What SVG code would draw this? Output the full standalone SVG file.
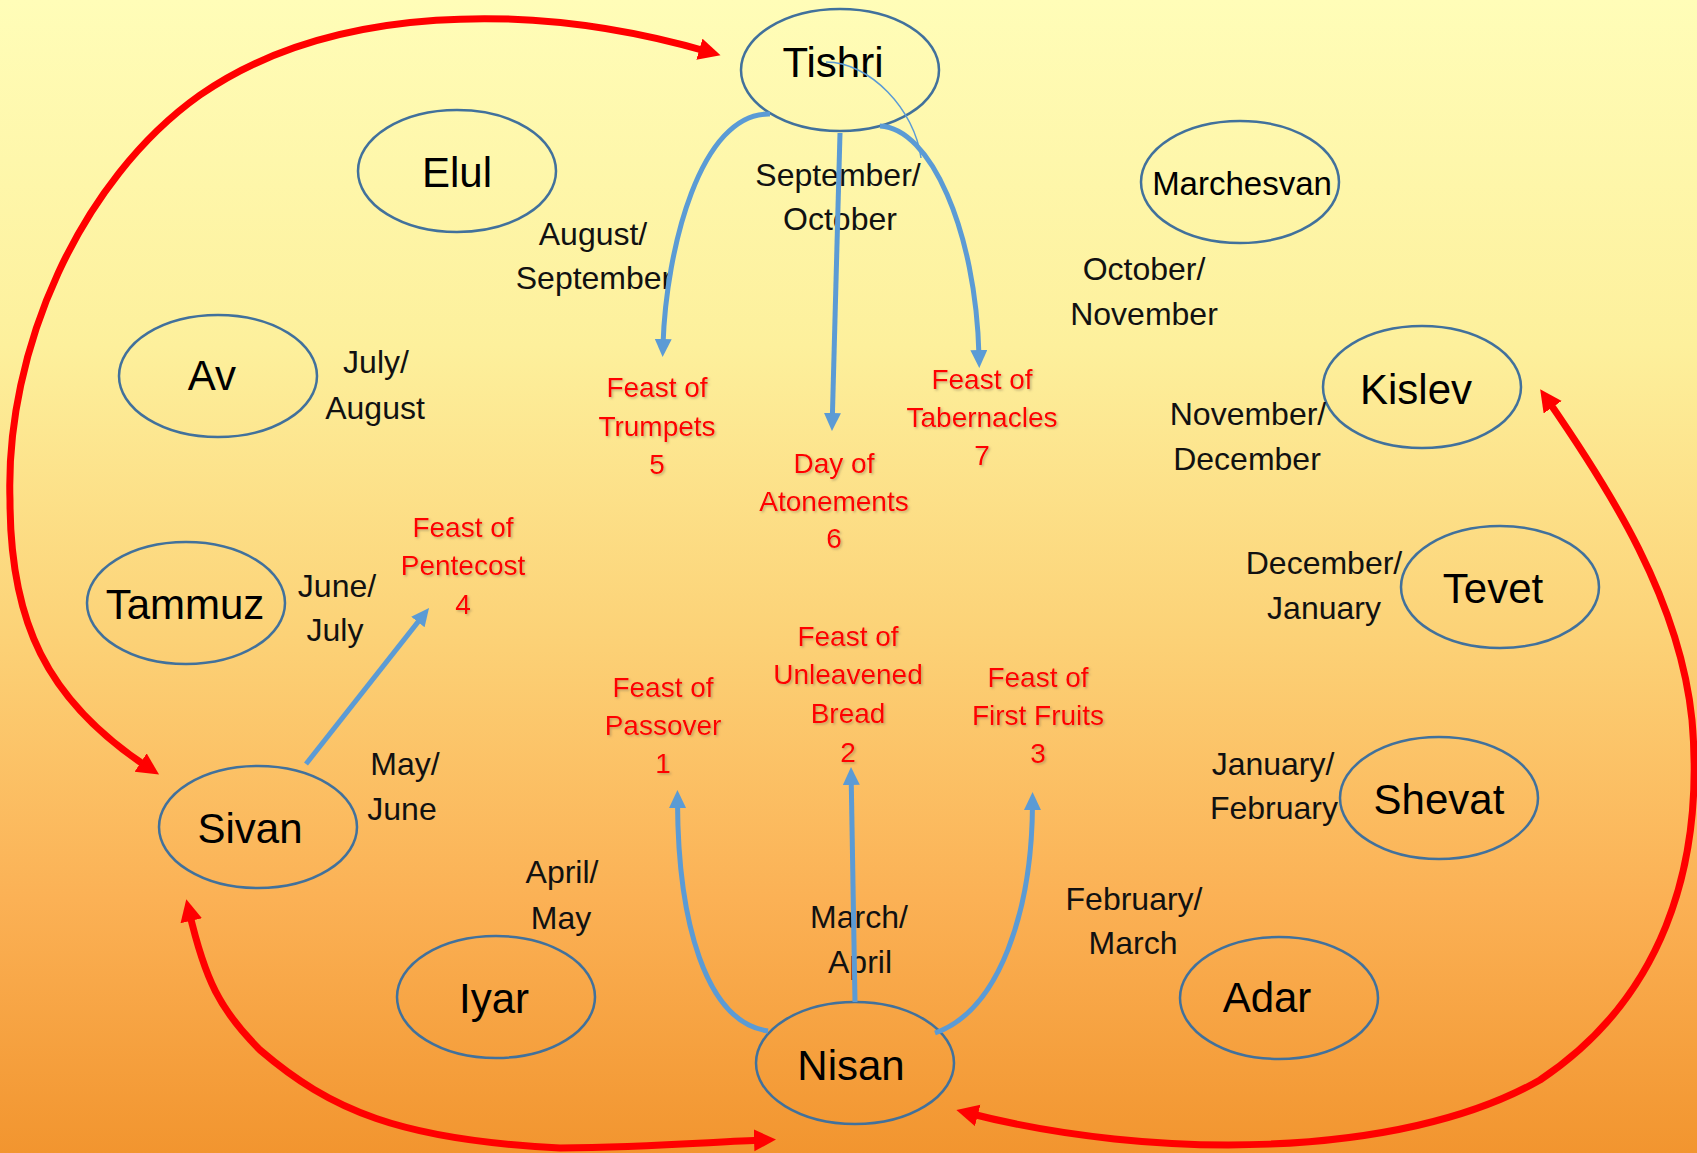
<svg xmlns="http://www.w3.org/2000/svg" width="1697" height="1153" viewBox="0 0 1697 1153">
<defs>
<linearGradient id="bg" x1="0" y1="0" x2="0" y2="1">
<stop offset="0" stop-color="#FFFDB8"/>
<stop offset="0.3" stop-color="#FDF09C"/>
<stop offset="0.55" stop-color="#FCD277"/>
<stop offset="0.78" stop-color="#FBB155"/>
<stop offset="1" stop-color="#F2952F"/>
</linearGradient>
<filter id="sh" x="-10%" y="-10%" width="130%" height="140%">
<feDropShadow dx="1.5" dy="1.5" stdDeviation="1" flood-color="#7a6a50" flood-opacity="0.45"/>
</filter>
<marker id="ra" markerUnits="userSpaceOnUse" markerWidth="24" markerHeight="24" refX="10" refY="11" orient="auto-start-reverse">
<path d="M0,0 L22,11 L0,22 z" fill="#FF0000"/>
</marker>
<marker id="ba" markerUnits="userSpaceOnUse" markerWidth="20" markerHeight="20" refX="6" refY="8.5" orient="auto">
<path d="M0,0 L18,8.5 L0,17 z" fill="#5B9BD5"/>
</marker>
</defs>
<style>
.node ellipse{fill:none;stroke:#41719C;stroke-width:2.5}
.mn{font-family:"Liberation Sans",Arial,sans-serif;font-size:42px;fill:#000;text-anchor:middle}
.ml{font-family:"Liberation Sans",Arial,sans-serif;font-size:32px;fill:#111;text-anchor:middle}
.fl{font-family:"Liberation Sans",Arial,sans-serif;font-size:28px;fill:#FF0000;text-anchor:middle;filter:url(#sh)}
.blue{fill:none;stroke:#5B9BD5;stroke-width:5}
.red{fill:none;stroke:#FF0000;stroke-width:7}
</style>
<rect x="0" y="0" width="1697" height="1153" fill="url(#bg)"/>

<g id="tishri" class="node"><ellipse cx="840" cy="70" rx="99" ry="61"/><text class="mn" x="833" y="77">Tishri</text></g>
<g id="elul" class="node"><ellipse cx="457" cy="171" rx="99" ry="61"/><text class="mn" x="457" y="187">Elul</text></g>
<g id="marchesvan" class="node"><ellipse cx="1240" cy="182" rx="99" ry="61"/><text class="mn" style="font-size:33px" x="1242" y="195">Marchesvan</text></g>
<g id="av" class="node"><ellipse cx="218" cy="376" rx="99" ry="61"/><text class="mn" x="212" y="390">Av</text></g>
<g id="kislev" class="node"><ellipse cx="1422" cy="387" rx="99" ry="61"/><text class="mn" x="1416" y="404">Kislev</text></g>
<g id="tammuz" class="node"><ellipse cx="186" cy="603" rx="99" ry="61"/><text class="mn" x="185" y="619">Tammuz</text></g>
<g id="tevet" class="node"><ellipse cx="1500" cy="587" rx="99" ry="61"/><text class="mn" x="1493" y="603">Tevet</text></g>
<g id="sivan" class="node"><ellipse cx="258" cy="827" rx="99" ry="61"/><text class="mn" x="250" y="843">Sivan</text></g>
<g id="shevat" class="node"><ellipse cx="1439" cy="798" rx="99" ry="61"/><text class="mn" x="1439" y="814">Shevat</text></g>
<g id="iyar" class="node"><ellipse cx="496" cy="997" rx="99" ry="61"/><text class="mn" x="494" y="1013">Iyar</text></g>
<g id="nisan" class="node"><ellipse cx="855" cy="1063" rx="99" ry="61"/><text class="mn" x="851" y="1080">Nisan</text></g>
<g id="adar" class="node"><ellipse cx="1279" cy="998" rx="99" ry="61"/><text class="mn" x="1267" y="1012">Adar</text></g>

<g id="month-labels">
<text class="ml" x="838" y="186">September/</text><text class="ml" x="840" y="230">October</text>
<text class="ml" x="593" y="245">August/</text><text class="ml" x="594" y="289">September</text>
<text class="ml" x="1144" y="280">October/</text><text class="ml" x="1144" y="325">November</text>
<text class="ml" x="376" y="373">July/</text><text class="ml" x="375" y="419">August</text>
<text class="ml" x="1248" y="425">November/</text><text class="ml" x="1247" y="470">December</text>
<text class="ml" x="337" y="597">June/</text><text class="ml" x="335" y="641">July</text>
<text class="ml" x="1324" y="574">December/</text><text class="ml" x="1324" y="619">January</text>
<text class="ml" x="405" y="775">May/</text><text class="ml" x="402" y="820">June</text>
<text class="ml" x="1273" y="775">January/</text><text class="ml" x="1274" y="819">February</text>
<text class="ml" x="562" y="883">April/</text><text class="ml" x="561" y="929">May</text>
<text class="ml" x="1134" y="910">February/</text><text class="ml" x="1133" y="954">March</text>
<text class="ml" x="859" y="928">March/</text><text class="ml" x="860" y="973">April</text>
</g>

<g id="feast-trumpets"><text class="fl" x="657" y="397">Feast of</text><text class="fl" x="657" y="436">Trumpets</text><text class="fl" x="657" y="474">5</text></g>
<g id="feast-atonements"><text class="fl" x="834" y="473">Day of</text><text class="fl" x="834" y="511">Atonements</text><text class="fl" x="834" y="548">6</text></g>
<g id="feast-tabernacles"><text class="fl" x="982" y="389">Feast of</text><text class="fl" x="982" y="427">Tabernacles</text><text class="fl" x="982" y="465">7</text></g>
<g id="feast-pentecost"><text class="fl" x="463" y="537">Feast of</text><text class="fl" x="463" y="575">Pentecost</text><text class="fl" x="463" y="614">4</text></g>
<g id="feast-passover"><text class="fl" x="663" y="697">Feast of</text><text class="fl" x="663" y="735">Passover</text><text class="fl" x="663" y="773">1</text></g>
<g id="feast-unleavened"><text class="fl" x="848" y="646">Feast of</text><text class="fl" x="848" y="684">Unleavened</text><text class="fl" x="848" y="723">Bread</text><text class="fl" x="848" y="762">2</text></g>
<g id="feast-firstfruits"><text class="fl" x="1038" y="687">Feast of</text><text class="fl" x="1038" y="725">First Fruits</text><text class="fl" x="1038" y="763">3</text></g>

<g id="connectors">
<path class="blue" d="M 770 114 C 700 112, 666 250, 663 345" marker-end="url(#ba)"/>
<path class="blue" d="M 840 133 L 832.3 419" marker-end="url(#ba)"/>
<path class="blue" d="M 880 126 C 930 128, 976 230, 979 356" marker-end="url(#ba)"/>
<path fill="none" stroke="#5B9BD5" stroke-width="1.5" d="M 826 62 C 870 62, 915 110, 921 158"/>
<path class="blue" d="M 768 1031 C 705 1022, 678 920, 677.5 802" marker-end="url(#ba)"/>
<path class="blue" d="M 855 1002 L 851.2 779" marker-end="url(#ba)"/>
<path class="blue" d="M 935 1033 C 1000 1010, 1032 910, 1032.5 804" marker-end="url(#ba)"/>
<path class="blue" d="M 306 764 L 421.6 617.4" marker-end="url(#ba)"/>
<path class="red" d="M 149 768 C 45 700, 10 620, 10 500 C 5 350, 80 180, 200 95 C 330 5, 530 0, 709 52" marker-start="url(#ra)" marker-end="url(#ra)"/>
<path class="red" d="M 189 911 C 205 980, 220 1010, 260 1050 C 330 1110, 400 1140, 560 1148 C 650 1147, 710 1142, 764 1140" marker-start="url(#ra)" marker-end="url(#ra)"/>
<path class="red" d="M 1547 399 C 1610 490, 1680 600, 1692 720 C 1705 870, 1660 1000, 1540 1080 C 1400 1160, 1150 1160, 968 1113" marker-start="url(#ra)" marker-end="url(#ra)"/>
</g>
</svg>
